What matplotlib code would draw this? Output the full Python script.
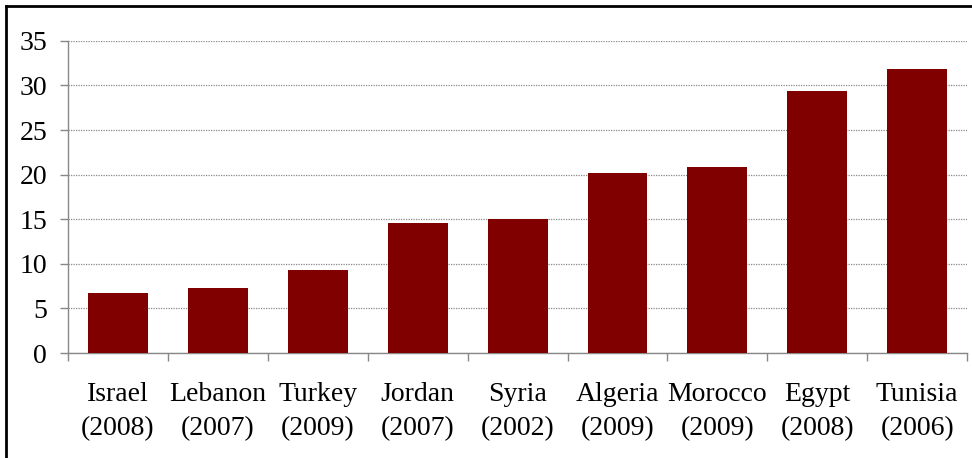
import matplotlib
matplotlib.use('Agg')

import matplotlib.pyplot as plt
from matplotlib.lines import Line2D
import numpy as np

countries = ['Israel', 'Lebanon', 'Turkey', 'Jordan', 'Syria',
             'Algeria', 'Morocco', 'Egypt', 'Tunisia']
years = ['2008', '2007', '2009', '2007', '2002', '2009', '2009', '2008', '2006']
values = [6.7, 7.3, 9.3, 14.6, 15.0, 20.2, 20.8, 29.4, 31.8]
y_ticks = [0, 5, 10, 15, 20, 25, 30, 35]

plt.rcParams['font.family'] = ['Liberation Serif', 'DejaVu Serif']

fig = plt.figure(figsize=(9.72, 4.58), dpi=100)
ax = fig.add_axes([0.070, 0.229, 0.925, 0.682])

x = np.arange(len(countries))
ax.bar(x, values, width=0.6, color='#800000', zorder=3)

ax.set_xlim(-0.5, len(countries) - 0.5)
ax.set_ylim(0, 35)
ax.set_yticks(y_ticks)
ax.tick_params(axis='y', labelsize=20, length=6, color='#888888', width=1, pad=9)
ax.grid(axis='y', color='#888888', linestyle=(0, (1, 1)), linewidth=0.9, zorder=0)

labels = [f"{c}\n({y})" for c, y in zip(countries, years)]
ax.set_xticks(x)
ax.set_xticklabels(labels, fontsize=20, linespacing=1.47)
ax.tick_params(axis='x', which='major', length=0, pad=21)
ax.set_xticks(np.arange(-0.5, len(countries) + 0.5, 1), minor=True)
ax.tick_params(axis='x', which='minor', length=6, color='#888888', width=1)

for side in ['top', 'right']:
    ax.spines[side].set_visible(False)
for side in ['left', 'bottom']:
    ax.spines[side].set_color('#888888')
    ax.spines[side].set_linewidth(1)

# frame lines at the top and left edge of the picture
fig.lines.append(Line2D([0.0065, 1.0], [0.986, 0.986], transform=fig.transFigure,
                        color='black', linewidth=2))
fig.lines.append(Line2D([0.0065, 0.0065], [0.0, 0.986], transform=fig.transFigure,
                        color='black', linewidth=2))

fig.savefig('out.png', dpi=100)
plt.close(fig)
